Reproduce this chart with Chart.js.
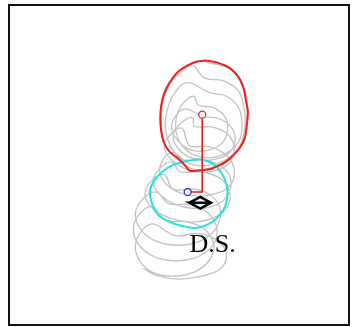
<!DOCTYPE html>
<html>
<head>
<meta charset="utf-8">
<script src="https://cdn.jsdelivr.net/npm/chart.js@4"></script>
<style>
  html, body { margin: 0; padding: 0; background: #fff; }
  #frame { position: absolute; left: 8px; top: 4px; width: 342px; height: 322px;
           box-sizing: border-box; border: 2px solid #111; pointer-events: none; }
  canvas { position: absolute; left: 0; top: 0; }
</style>
</head>
<body>
<canvas id="sway" width="353" height="327"></canvas>
<div id="frame"></div>
<script>
// centre-of-pressure trace, origin at D.S. marker (x right, y forward)
const swayTrace = [
  [6,145],[27,140],[41,128],[48,108],[49,86],[45,66],[35,50],[19,39],[2,34],[-11,36],[-25,46],[-35,58],[-40,78],[-39,100],[-33,120],[-21,134],[-8,142],
  [4,129],[24,126],[39,116],[45,99],[46,79],[41,59],[29,46],[11,39],[-6,39],[-21,46],[-31,59],[-36,76],[-34,96],[-26,114],[-13,124],
  [9,114],[27,110],[39,99],[43,84],[41,66],[31,54],[15,47],[-3,48],[-16,56],[-24,69],[-25,86],[-19,101],[-7,110],
  [-2,101],[14,98],[26,88],[28,74],[22,61],[8,54],[-8,54],[-20,61],[-29,74],[-27,87],[-16,97],
  [3,89],[19,87],[32,78],[36,64],[28,50],[10,44],[-8,46],[-22,55],[-28,70],[-20,82],[-8,88],
  [-6,79],[13,78],[29,70],[35,56],[29,40],[11,32],[-9,33],[-27,42],[-37,57],[-31,70],[-19,77],
  [-11,59],[9,58],[27,49],[35,34],[31,18],[15,9],[-5,7],[-25,12],[-39,24],[-41,39],[-29,52],
  [-16,44],[4,44],[21,38],[31,26],[29,9],[17,-2],[-3,-6],[-25,-2],[-41,8],[-49,22],[-41,36],[-29,42],
  [-21,32],[-1,32],[19,26],[30,12],[28,-4],[13,-16],[-9,-20],[-31,-16],[-49,-6],[-57,8],[-51,22],[-37,29],
  [-28,14],[-5,14],[13,6],[21,-10],[15,-28],[-1,-40],[-23,-44],[-45,-40],[-61,-28],[-67,-12],[-59,4],[-45,11],
  [-33,-1],[-11,-2],[7,-10],[17,-26],[13,-44],[-3,-56],[-25,-60],[-47,-56],[-63,-44],[-69,-28],[-63,-12],[-49,-4],
  [-36,-18],[-13,-20],[5,-28],[14,-44],[9,-60],[-7,-72],[-29,-76],[-49,-72],[-61,-62],[-67,-46],[-61,-30],[-49,-22],
  [-26,-34],[-1,-32],[19,-40],[27,-54],[21,-68],[1,-76],[-21,-79],[-43,-76],[-59,-68]
];

// eyes open contour (red) and eyes closed contour (cyan)
const openContour = [
  [6,147],[17,145],[29,140],[36,134],[41,127],[45,117],[47,106],[49,94],[48,81],[46,67],[41,57],[34,49],[26,42],[16,37],[12,35],
  [6,34],[-4,33],[-11,33],[-16,39],[-23,46],[-31,52],[-36,59],[-39,67],[-41,81],[-41,94],[-39,107],[-35,118],[-29,128],[-22,136],[-13,142],[-3,146],[6,147]
];
const closedContour = [
  [-1,45],[12,41],[21,32],[26,22],[28,11],[26,-3],[19,-14],[9,-22],[-3,-26],[-14,-25],[-29,-21],[-43,-13],[-49,-3],[-52,11],[-48,22],[-39,32],[-28,39],[-14,43],[-1,45]
];

// centres and the shift between them
const openCentre = [2, 91];
const closedCentre = [-13, 11];
const shiftPath = [[2,91],[2,11],[-13,11]];

// D.S. reference marker
const dsMarker = [[-11,0],[0,6],[11,0],[0,-6],[-11,0],[11,0]];
const dsLabel = { text: 'D.S.', x: -11, y: -51 };

const pts = a => a.map(p => ({ x: p[0], y: p[1] }));

const labelPlugin = {
  id: 'dsLabel',
  afterDatasetsDraw(chart) {
    const c = chart.ctx;
    c.save();
    c.font = '26px "Liberation Serif", "Times New Roman", serif';
    c.fillStyle = '#000';
    c.textAlign = 'left';
    c.textBaseline = 'alphabetic';
    c.fillText(dsLabel.text, chart.scales.x.getPixelForValue(dsLabel.x), chart.scales.y.getPixelForValue(dsLabel.y));
    c.restore();
  }
};

new Chart(document.getElementById('sway'), {
  type: 'scatter',
  data: {
    datasets: [
      { data: pts(dsMarker), showLine: true, borderColor: '#000', borderWidth: 2.5, pointRadius: 0, tension: 0, order: 0 },
      { data: pts([openCentre]), pointRadius: 3.5, pointBorderColor: 'rgb(240,30,30)', pointBackgroundColor: '#fff', pointBorderWidth: 1.3, order: 1 },
      { data: pts([closedCentre]), pointRadius: 3.5, pointBorderColor: 'rgb(40,40,255)', pointBackgroundColor: '#fff', pointBorderWidth: 1.3, order: 1 },
      { data: pts(shiftPath), showLine: true, borderColor: 'rgb(240,30,30)', borderWidth: 1.6, pointRadius: 0, tension: 0, order: 2 },
      { data: pts(openContour), showLine: true, borderColor: 'rgb(240,30,30)', borderWidth: 2, pointRadius: 0, tension: 0.25, order: 3 },
      { data: pts(closedContour), showLine: true, borderColor: 'rgb(40,225,230)', borderWidth: 2, pointRadius: 0, tension: 0.4, order: 4 },
      { data: pts(swayTrace), showLine: true, borderColor: 'rgb(195,195,195)', borderWidth: 1.3, pointRadius: 0, tension: 0.4, order: 5 }
    ]
  },
  options: {
    responsive: false,
    animation: false,
    layout: { padding: 0 },
    plugins: { legend: { display: false }, tooltip: { enabled: false } },
    scales: {
      x: { type: 'linear', display: false, min: -201, max: 152 },
      y: { type: 'linear', display: false, min: -123, max: 204 }
    }
  },
  plugins: [labelPlugin]
});
</script>
</body>
</html>
